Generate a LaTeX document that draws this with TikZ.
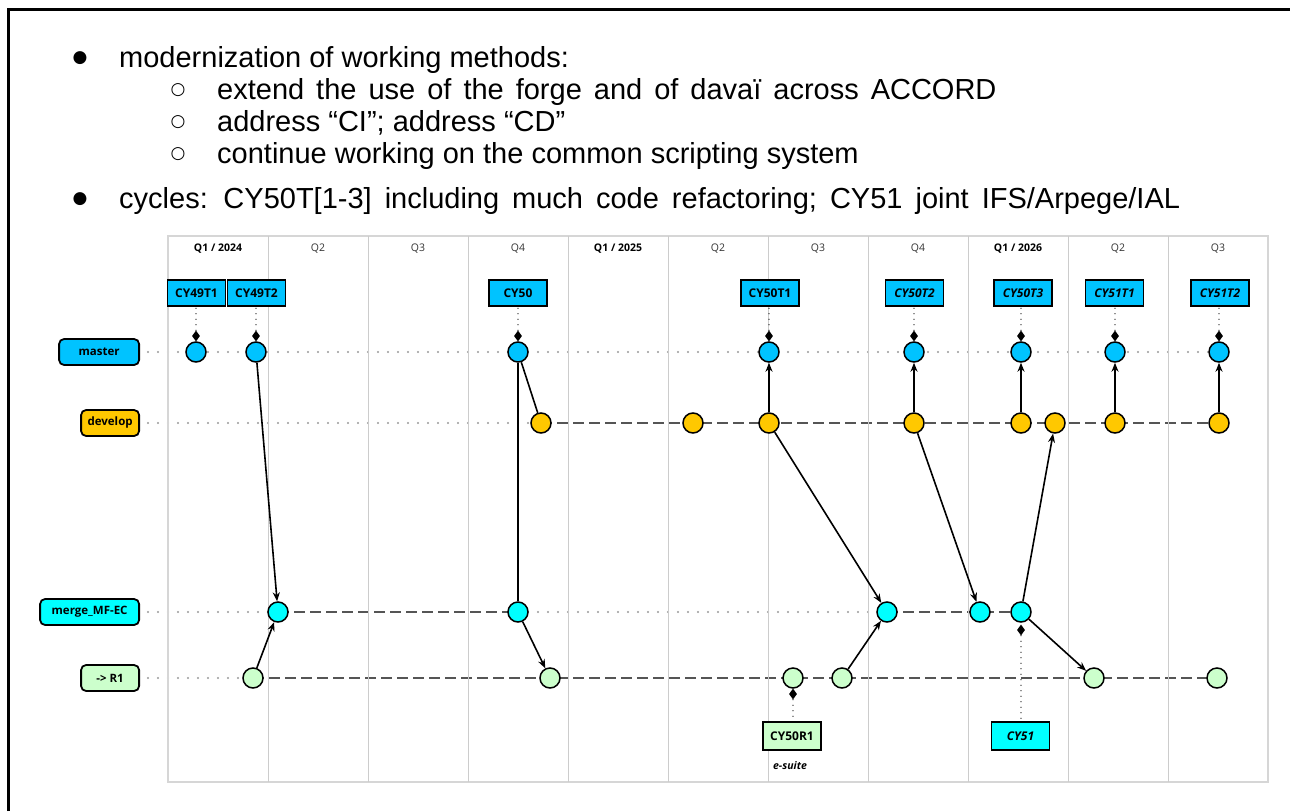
\documentclass[tikz,border=0pt]{standalone}
\usepackage{fontspec}
\setmainfont{Liberation Sans}
\newfontfamily\cf{Open Sans}
\newfontfamily\dv{DejaVu Sans}
\usetikzlibrary{shapes.geometric,arrows.meta}
\definecolor{cmaster}{HTML}{00C3FF}
\definecolor{cdev}{HTML}{FFC800}
\definecolor{cmerge}{HTML}{00FFFF}
\definecolor{crone}{HTML}{CCFFCC}
\definecolor{gridc}{HTML}{CCCCCC}
\definecolor{dotc}{HTML}{999999}
\definecolor{dashc}{HTML}{555555}
\pgfdeclarelayer{bg}
\pgfsetlayers{bg,main}
\tikzset{
  commit/.style={circle,draw=black,line width=1.5pt,minimum size=20pt,inner sep=0pt},
  tagbox/.style={draw=black,line width=1.5pt,minimum width=58pt,minimum height=26pt,inner sep=0pt,font=\cf\bfseries\fontsize{12}{14}\selectfont},
  brlabel/.style={draw=black,rounded corners=5pt,line width=1.8pt,minimum height=26pt,inner sep=0pt,anchor=east,font=\cf\bfseries\fontsize{11.5}{13}\selectfont},
  tagdot/.style={black,line width=1.3pt,line cap=round,dash pattern=on 0pt off 5.5pt},
  gdot/.style={dotc,line width=2.3pt,line cap=round,dash pattern=on 0pt off 10pt},
  bdash/.style={dashc,line width=2.5pt,dash pattern=on 11pt off 5pt},
  link/.style={black,line width=1.6pt},
  arr/.style={link,-{Stealth[length=9pt,width=7pt]}},
  diam/.style={diamond,fill=black,inner sep=0pt,minimum width=8pt,minimum height=11pt},
  hdr/.style={font=\cf\fontsize{10.5}{12}\selectfont,text=black!80},
  hdrb/.style={font=\cf\bfseries\fontsize{10.5}{12}\selectfont,text=black},
  body/.style={anchor=base west,inner sep=0pt,font=\fontsize{29}{33}\selectfont},
  bul/.style={inner sep=0pt,font=\dv\fontsize{17}{19}\selectfont},
}
\begin{document}
\begin{tikzpicture}[x=1pt,y=-1pt]
\useasboundingbox (0,0) rectangle (1290,811);
% frame
\draw[line width=3pt] (8,811) -- (8,9) -- (1290,9);
% bullet text
\node[bul] (b1) at (80,58) {●};
\node[body] (l1) at (119,67) {modernization of working methods:};
\node[bul] (b2) at (178,90) {○};
\node[body] (l2) at (217,99) {\spaceskip=12pt plus 1pt extend the use of the forge and of davaï across ACCORD};
\node[bul] (b3) at (178,122) {○};
\node[body] (l3) at (217,131) {address “CI”; address “CD”};
\node[bul] (b4) at (178,154) {○};
\node[body] (l4) at (217,163) {continue working on the common scripting system};
\node[bul] (b5) at (80,199) {●};
\node[body] (l5) at (119,208) {\spaceskip=13pt plus 1pt cycles: CY50T[1-3] including much code refactoring; CY51 joint IFS/Arpege/IAL};
% grid
\draw[gridc!80,line width=1.2pt] (168,236) rectangle (1268,782);
\foreach \x in {268,368,...,1168} \draw[gridc,line width=1pt] (\x,236) -- (\x,782);
\node[hdrb] (h1) at (218,249) {Q1 / 2024};
\node[hdr] (h2) at (318,249) {Q2};
\node[hdr] (h3) at (418,249) {Q3};
\node[hdr] (h4) at (518,249) {Q4};
\node[hdrb] (h5) at (618,249) {Q1 / 2025};
\node[hdr] (h6) at (718,249) {Q2};
\node[hdr] (h7) at (818,249) {Q3};
\node[hdr] (h8) at (918,249) {Q4};
\node[hdrb] (h9) at (1018,249) {Q1 / 2026};
\node[hdr] (h10) at (1118,249) {Q2};
\node[hdr] (h11) at (1218,249) {Q3};
% branch labels
\node[brlabel,fill=cmaster,minimum width=80pt] (lm) at (140,352) {master};
\node[brlabel,fill=cdev,minimum width=58pt] (ld) at (140,423) {develop};
\node[brlabel,fill=cmerge,minimum width=99pt] (lg) at (140,612) {merge\_MF-EC};
\node[brlabel,fill=crone,minimum width=58pt] (lr) at (140,678) {-> R1};
% master commits
\node[commit,fill=cmaster] (m1) at (196,352) {};
\node[commit,fill=cmaster] (m2) at (256,352) {};
\node[commit,fill=cmaster] (m3) at (518,352) {};
\node[commit,fill=cmaster] (m4) at (769,352) {};
\node[commit,fill=cmaster] (m5) at (914,352) {};
\node[commit,fill=cmaster] (m6) at (1021,352) {};
\node[commit,fill=cmaster] (m7) at (1115,352) {};
\node[commit,fill=cmaster] (m8) at (1219,352) {};
% develop commits
\node[commit,fill=cdev] (d1) at (541,423) {};
\node[commit,fill=cdev] (d2) at (693,423) {};
\node[commit,fill=cdev] (d3) at (769,423) {};
\node[commit,fill=cdev] (d4) at (914,423) {};
\node[commit,fill=cdev] (d5) at (1021,423) {};
\node[commit,fill=cdev] (d6) at (1055,423) {};
\node[commit,fill=cdev] (d7) at (1115,423) {};
\node[commit,fill=cdev] (d8) at (1219,423) {};
% merge commits
\node[commit,fill=cmerge] (g1) at (278,612) {};
\node[commit,fill=cmerge] (g2) at (518,612) {};
\node[commit,fill=cmerge] (g3) at (887,612) {};
\node[commit,fill=cmerge] (g4) at (980,612) {};
\node[commit,fill=cmerge] (g5) at (1021,612) {};
% R1 commits
\node[commit,fill=crone] (r1) at (253,678) {};
\node[commit,fill=crone] (r2) at (550,678) {};
\node[commit,fill=crone] (r3) at (793,678) {};
\node[commit,fill=crone] (r4) at (842,678) {};
\node[commit,fill=crone] (r5) at (1094,678) {};
\node[commit,fill=crone] (r6) at (1217,678) {};
% branch lines
\begin{pgfonlayer}{bg}
\draw[gdot] ([xshift=8pt]lm.east) -- (m8.center);
\draw[gdot] ([xshift=8pt]ld.east) -- (d1.center);
\draw[bdash] (d1.center) -- (d8.center);
\draw[gdot] ([xshift=8pt]lg.east) -- (g1.center);
\draw[bdash] (g1.center) -- (g2.center);
\draw[gdot] (g2.center) -- (g3.center);
\draw[bdash] (g3.center) -- (g5.center);
\draw[gdot] ([xshift=8pt]lr.east) -- (r1.center);
\draw[bdash] (r1.center) -- (r6.center);
\end{pgfonlayer}
% tags
\node[tagbox,fill=cmaster] (t1) at (196.5,293) {CY49T1};
\node[tagbox,fill=cmaster] (t2) at (256.5,293) {CY49T2};
\node[tagbox,fill=cmaster] (t3) at (518,293) {CY50};
\node[tagbox,fill=cmaster] (t4) at (770,293) {CY50T1};
\node[tagbox,fill=cmaster] (t5) at (914.5,293) {\itshape CY50T2};
\node[tagbox,fill=cmaster] (t6) at (1023,293) {\itshape CY50T3};
\node[tagbox,fill=cmaster] (t7) at (1114.5,293) {\itshape CY51T1};
\node[tagbox,fill=cmaster] (t8) at (1220,293) {\itshape CY51T2};
\foreach \i/\x in {1/196,2/256,3/518,4/769,5/914,6/1021,7/1115,8/1219}{
  \node[diam] (dm\i) at (\x,336) {};
  \draw[tagdot] (dm\i.north) -- (\x,308);
}
\node[tagbox,fill=crone,minimum height=28pt] (tr) at (792,736) {CY50R1};
\node[diam] (dr) at (793,694) {};
\draw[tagdot] (dr.south) -- (tr.north -| dr.south);
\node[font=\cf\bfseries\itshape\fontsize{10.5}{12}\selectfont] (es) at (790,766) {e-suite};
\node[tagbox,fill=cmerge,minimum height=28pt] (tc) at (1020.5,736) {\itshape CY51};
\node[diam] (dc) at (1021,630) {};
\draw[tagdot] (dc.south) -- (tc.north -| dc.south);
% connectors
\draw[arr] (m2) -- (g1);
\draw[arr] (r1) -- (g1);
\draw[link] (m3) -- (d1);
\draw[link] (m3) -- (g2);
\draw[arr] (g2) -- (r2);
\draw[arr] (d3) -- (m4);
\draw[arr] (d3) -- (g3);
\draw[arr] (d4) -- (m5);
\draw[arr] (d4) -- (g4);
\draw[arr] (r4) -- (g3);
\draw[arr] (g5) -- (d6);
\draw[arr] (g5) -- (r5);
\draw[arr] (d5) -- (m6);
\draw[arr] (d7) -- (m7);
\draw[arr] (d8) -- (m8);
\end{tikzpicture}
\end{document}
